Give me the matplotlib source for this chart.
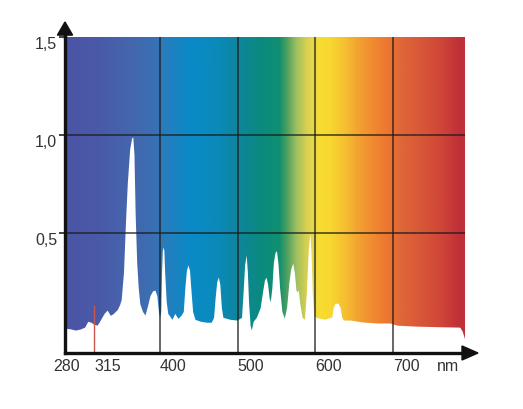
import numpy as np
import matplotlib
matplotlib.use("Agg")
import matplotlib.pyplot as plt
from matplotlib.colors import to_rgb
from matplotlib.patches import Polygon

# ---------------- data ----------------
wavelength_nm = [278, 286, 291, 297, 303, 307, 311, 315, 319, 323, 328, 332, 336, 340, 345,
                 348, 350, 353, 355.5, 358, 361, 363.5, 365, 366.5, 368, 370, 372, 374,
                 377.5, 380.7, 384, 387, 390.5, 393.5, 396, 398, 399.5,
                 401, 402, 403, 404, 405, 406, 408, 410,
                 415.5, 419, 423, 427, 430, 432, 434, 436, 438, 440, 442, 445, 452,
                 460, 466, 469, 471, 473, 475, 477, 479, 481, 490, 499, 505, 507, 509,
                 511, 512.5, 514, 516, 517.5, 520, 524, 529, 532, 534.5, 536.5, 538.5,
                 540.5, 542, 544, 546, 548, 550, 552, 554, 557, 560, 563, 566, 568.5,
                 571, 573, 575, 576.5, 578, 580, 583, 586, 588.5, 591, 593, 594.5, 596,
                 598, 600.9, 605, 612, 619, 621, 623, 625, 629, 632, 634, 636, 645, 661,
                 680, 696, 705, 730, 760, 786, 789, 793]
intensity = [0.015, 0.010, 0.005, 0.010, 0.020, 0.050, 0.045, 0.035, 0.030, 0.055, 0.090,
             0.107, 0.080, 0.090, 0.110, 0.135, 0.160, 0.300, 0.550, 0.760, 0.930, 0.985,
             0.990, 0.900, 0.600, 0.350, 0.220, 0.140, 0.100, 0.082, 0.130, 0.180, 0.205,
             0.209, 0.180, 0.100, 0.070,
             0.100, 0.300, 0.410, 0.430, 0.410, 0.300, 0.150, 0.090,
             0.060, 0.090, 0.065, 0.080, 0.100, 0.220, 0.310, 0.337, 0.310, 0.200, 0.100,
             0.060, 0.050, 0.045, 0.045, 0.070, 0.170, 0.250, 0.276, 0.240, 0.120, 0.070,
             0.060, 0.056, 0.070, 0.200, 0.340, 0.388, 0.300, 0.150, 0.030, 0.005, 0.050,
             0.070, 0.120, 0.200, 0.260, 0.275, 0.240, 0.170, 0.150, 0.220, 0.350, 0.400,
             0.410, 0.340, 0.220, 0.100, 0.066, 0.120, 0.250, 0.320, 0.347, 0.300, 0.210,
             0.200, 0.210, 0.140, 0.070, 0.060, 0.200, 0.420, 0.500, 0.400, 0.200, 0.080,
             0.070, 0.066, 0.060, 0.070, 0.070, 0.120, 0.140, 0.143, 0.120, 0.070, 0.056,
             0.056, 0.046, 0.041, 0.041, 0.030, 0.025, 0.022, 0.020, 0.000, -0.050]

x_ticks = [280, 315, 400, 500, 600, 700]
x_tick_labels = ["280", "315", "400", "500", "600", "700"]
x_unit_label = "nm"
y_ticks = [0.5, 1.0, 1.5]
y_tick_labels = ["0,5", "1,0", "1,5"]
grid_x = [400, 500, 600, 700]
grid_y = [0.5, 1.0]
marker_nm = 315
marker_top = 0.13

# background spectrum colour stops
stop_nm = [279, 323, 361, 394, 403, 439, 477, 497, 529, 554, 564, 576, 589, 598, 606,
           619, 638, 657, 683, 700, 709, 735, 760, 786, 793]
stop_colors = ["#4a55a5", "#4a5aa8", "#4466ad", "#3a70b2", "#2a7cbc", "#0a8ac8", "#0a8ab8",
               "#0f85a0", "#0a8a80", "#109070", "#50a060", "#a0c060", "#d8d050", "#e8d848",
               "#f8dc30", "#f8d830", "#f5c030", "#f2a030", "#f08030", "#ea7032", "#e06838",
               "#d85838", "#d04838", "#c03038", "#c03038"]

# ---------------- figure ----------------
W, H = 523, 409
fig = plt.figure(figsize=(W / 100, H / 100), dpi=100)
ax_left, ax_right, ax_top, ax_bottom = 65, 465, 37, 353
ax = fig.add_axes([ax_left / W, (H - ax_bottom) / H,
                   (ax_right - ax_left) / W, (ax_bottom - ax_top) / H])
xmin, xmax, ymin, ymax = 277.7, 792.7, -0.112, 1.5
ax.set_xlim(xmin, xmax)
ax.set_ylim(ymin, ymax)

# gradient background
xs = np.linspace(xmin, xmax, 600)
rgb = np.array([to_rgb(c) for c in stop_colors])
cols = np.stack([np.interp(xs, stop_nm, rgb[:, k]) for k in range(3)], axis=-1)
img = np.repeat(cols[np.newaxis, :, :], 2, axis=0)
ax.imshow(img, extent=[xmin, xmax, ymin, ymax], aspect="auto", origin="lower",
          interpolation="bilinear", zorder=0)

# white spectrum
ax.fill_between(wavelength_nm, intensity, ymin - 0.1, color="white", lw=0, zorder=1)

# grid
for gx in grid_x:
    ax.axvline(gx, color="#1c1c1c", lw=1.1, alpha=0.85, zorder=2)
for gy in grid_y:
    ax.axhline(gy, color="#1c1c1c", lw=1.1, alpha=0.85, zorder=2)

# red marker line
ax.plot([marker_nm, marker_nm], [ymin, marker_top], color="#c8584e", lw=1.0, zorder=3)

# spines and axes
for s in ["top", "right"]:
    ax.spines[s].set_visible(False)
for s in ["left", "bottom"]:
    ax.spines[s].set_linewidth(2.4)
    ax.spines[s].set_color("#111111")
    ax.spines[s].set_zorder(5)
ax.set_xticks([])
ax.set_yticks(y_ticks)
ax.set_yticklabels([])
ax.tick_params(axis="y", length=4, width=1.2, color="#222222", direction="out")

tr = ax.transAxes
# y axis extension + arrow
ax.plot([0, 0], [1.0, 1.01], color="#111111", lw=2.4, transform=tr, clip_on=False, zorder=5)
ax.add_patch(Polygon([[-0.019, 1.006], [0.019, 1.006], [0, 1.0475]], closed=True,
                     facecolor="#111111", edgecolor="#111111", transform=tr,
                     clip_on=False, zorder=6))
# x axis arrow
ax.add_patch(Polygon([[0.9925, -0.0222], [0.9925, 0.0222], [1.0325, 0]], closed=True,
                     facecolor="#111111", edgecolor="#111111", transform=tr,
                     clip_on=False, zorder=6))

font = "Liberation Sans"
txt_color = "#333333"
fs = 11.5
for v, lab in zip(x_ticks, x_tick_labels):
    ha = "center" if v == x_ticks[0] else "left"
    ax.text(v, -0.142, lab, ha=ha, va="top", fontsize=fs, family=font, color=txt_color,
            clip_on=False)
ax.text(757, -0.142, x_unit_label, ha="left", va="top", fontsize=fs, family=font,
        color=txt_color, clip_on=False)
for v, lab in zip(y_ticks, y_tick_labels):
    ax.text(-0.02, v, lab, ha="right", va="top", fontsize=fs, family=font, color=txt_color,
            transform=ax.get_yaxis_transform(), clip_on=False)

fig.savefig("out.png", dpi=100)
